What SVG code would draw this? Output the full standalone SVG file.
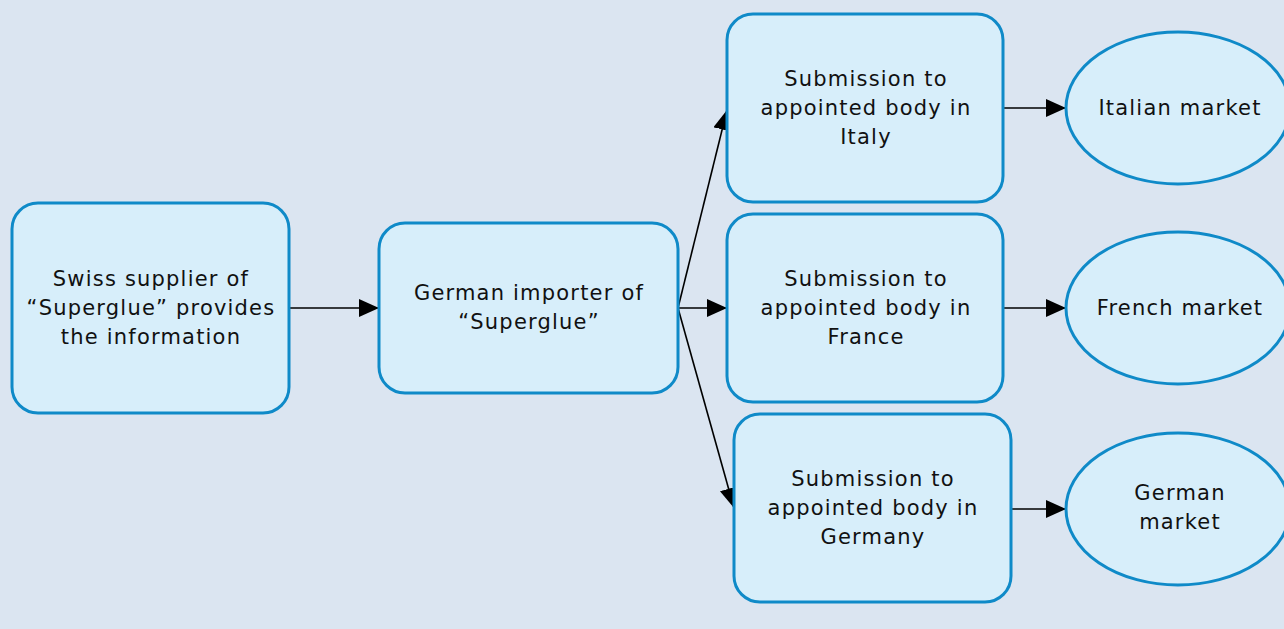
<svg xmlns="http://www.w3.org/2000/svg" width="1284" height="629" viewBox="0 0 1284 629">
<defs>
<style>
.n{fill:#d7eefa;stroke:#0f8ac8;stroke-width:3}
.t{font-family:"DejaVu Sans",Verdana,sans-serif;font-size:21px;letter-spacing:1.2px;fill:#111;text-anchor:middle}
.c{stroke:#000;stroke-width:1.6;fill:none;marker-end:url(#ah)}
</style>
<marker id="ah" viewBox="0 0 20 18" refX="20" refY="9" markerWidth="20" markerHeight="18" markerUnits="userSpaceOnUse" orient="auto">
<path d="M0,0 L20,9 L0,18 Z" fill="#000"/>
</marker>
</defs>
<rect x="0" y="0" width="1284" height="629" fill="#dbe5f1"/>
<g id="connectors">
<line class="c" x1="289" y1="308" x2="379" y2="308"/>
<line class="c" x1="678" y1="308" x2="727" y2="110"/>
<line class="c" x1="678" y1="308" x2="727" y2="308"/>
<line class="c" x1="678" y1="308" x2="734" y2="508"/>
<line class="c" x1="1003" y1="108" x2="1066" y2="108"/>
<line class="c" x1="1003" y1="308" x2="1066" y2="308"/>
<line class="c" x1="1011" y1="509" x2="1066" y2="509"/>
</g>
<g id="swiss">
<rect class="n" x="12" y="203" width="277" height="210" rx="26"/>
<text class="t" x="151" y="286">Swiss supplier of</text>
<text class="t" x="151" y="315">“Superglue” provides</text>
<text class="t" x="151" y="344">the information</text>
</g>
<g id="importer">
<rect class="n" x="379" y="223" width="299" height="170" rx="26"/>
<text class="t" x="529" y="300">German importer of</text>
<text class="t" x="529" y="329">“Superglue”</text>
</g>
<g id="italy">
<rect class="n" x="727" y="14" width="276" height="188" rx="26"/>
<text class="t" x="866" y="86">Submission to</text>
<text class="t" x="866" y="115">appointed body in</text>
<text class="t" x="866" y="144">Italy</text>
</g>
<g id="france">
<rect class="n" x="727" y="214" width="276" height="188" rx="26"/>
<text class="t" x="866" y="286">Submission to</text>
<text class="t" x="866" y="315">appointed body in</text>
<text class="t" x="866" y="344">France</text>
</g>
<g id="germany">
<rect class="n" x="734" y="414" width="277" height="188" rx="26"/>
<text class="t" x="873" y="486">Submission to</text>
<text class="t" x="873" y="515">appointed body in</text>
<text class="t" x="873" y="544">Germany</text>
</g>
<g id="italian-market">
<ellipse class="n" cx="1178" cy="108" rx="112" ry="76"/>
<text class="t" x="1180" y="115">Italian market</text>
</g>
<g id="french-market">
<ellipse class="n" cx="1178" cy="308" rx="112" ry="76"/>
<text class="t" x="1180" y="315">French market</text>
</g>
<g id="german-market">
<ellipse class="n" cx="1178" cy="509" rx="112" ry="76"/>
<text class="t" x="1180" y="500">German</text>
<text class="t" x="1180" y="529">market</text>
</g>
</svg>
